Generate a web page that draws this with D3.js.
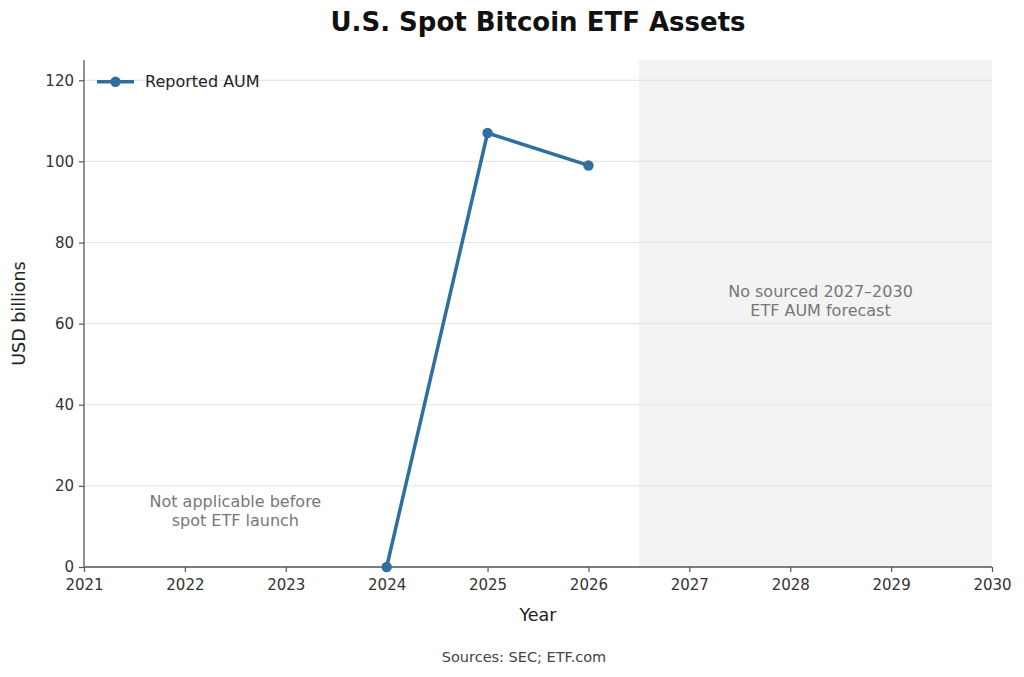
<!DOCTYPE html>
<html>
<head>
<meta charset="utf-8">
<script src="https://cdn.jsdelivr.net/npm/d3@7"></script>
<style>
  body { margin: 0; background: #fff; }
  svg { font-family: "DejaVu Sans", sans-serif; }
</style>
</head>
<body>
<div id="chart"></div>
<script>
// data
var years = [2024, 2025, 2026];
var aum = [0, 107, 99];
var xTicks = [2021, 2022, 2023, 2024, 2025, 2026, 2027, 2028, 2029, 2030];
var yTicks = [0, 20, 40, 60, 80, 100, 120];
var forecastStart = 2026.5;

var layout = {
    "width": 1024,
    "height": 677,
    "margin": {"top": 60, "right": 32, "bottom": 110, "left": 84}
};

var svg = d3.select("#chart").append("svg")
    .attr("width", layout.width)
    .attr("height", layout.height);

var x = d3.scaleLinear()
    .domain([2021, 2030])
    .range([layout.margin.left, layout.width - layout.margin.right]);

var y = d3.scaleLinear()
    .domain([0, 125])
    .range([layout.height - layout.margin.bottom, layout.margin.top]);

// shaded forecast region
svg.append("rect")
    .attr("x", x(forecastStart))
    .attr("y", y(125))
    .attr("width", x(2030) - x(forecastStart))
    .attr("height", y(0) - y(125))
    .attr("fill", "#f3f3f3");

// horizontal grid
svg.append("g")
    .selectAll("line")
    .data(yTicks)
    .enter()
    .append("line")
    .attr("x1", x(2021))
    .attr("x2", x(2030))
    .attr("y1", d => y(d))
    .attr("y2", d => y(d))
    .attr("stroke", "#e6e6e6")
    .attr("stroke-width", 1.2);

// axes
var xAxis = svg.append("g")
    .attr("transform", "translate(0," + y(0) + ")")
    .call(d3.axisBottom(x).tickValues(xTicks).tickFormat(d3.format("d")).tickSize(5).tickPadding(7));

var yAxis = svg.append("g")
    .attr("transform", "translate(" + x(2021) + ",0)")
    .call(d3.axisLeft(y).tickValues(yTicks).tickSize(5).tickPadding(5));

[xAxis, yAxis].forEach(function(g) {
    g.attr("font-family", null).attr("font-size", null);
    g.select(".domain").attr("stroke", "#555").attr("stroke-width", 1.3);
    g.selectAll(".tick line").attr("stroke", "#555").attr("stroke-width", 1.2);
    g.selectAll(".tick text")
        .attr("fill", "#333")
        .style("font-size", "15px");
});
// spines span the whole plot area
yAxis.select(".domain").attr("d", "M0," + y(125) + "V" + y(0));
xAxis.select(".domain").attr("d", "M" + x(2021) + ",0H" + x(2030));

// line
var line = d3.line()
    .x((d, i) => x(years[i]))
    .y(d => y(d));

svg.append("path")
    .datum(aum)
    .attr("d", line)
    .attr("fill", "none")
    .attr("stroke", "#2f6f9f")
    .attr("stroke-width", 3.5)
    .attr("stroke-linejoin", "round");

svg.selectAll("circle.pt")
    .data(aum)
    .enter()
    .append("circle")
    .attr("class", "pt")
    .attr("cx", (d, i) => x(years[i]))
    .attr("cy", d => y(d))
    .attr("r", 5.2)
    .attr("fill", "#2f6f9f");

// legend
var leg = svg.append("g").attr("transform", "translate(97," + (y(120) + 1.5) + ")");
leg.append("line")
    .attr("x1", 0).attr("x2", 37).attr("y1", 0).attr("y2", 0)
    .attr("stroke", "#2f6f9f").attr("stroke-width", 3.5);
leg.append("circle").attr("cx", 18.5).attr("cy", 0).attr("r", 5.2).attr("fill", "#2f6f9f");
leg.append("text")
    .attr("x", 48).attr("y", 0).attr("dy", "0.35em")
    .style("font-size", "16px").attr("fill", "#222")
    .text("Reported AUM");

// annotations
function note(cx, cy, lines) {
    var t = svg.append("text")
        .attr("text-anchor", "middle")
        .attr("fill", "#777")
        .style("font-size", "16px");
    lines.forEach(function(s, i) {
        t.append("tspan")
            .attr("x", cx)
            .attr("y", cy + i * 18.5)
            .text(s);
    });
}
note(x(2022.5), y(14.7), ["Not applicable before", "spot ETF launch"]);
note(x(2028.3), y(66.5), ["No sourced 2027\u20132030", "ETF AUM forecast"]);

// titles
svg.append("text")
    .attr("x", 538).attr("y", 31)
    .attr("text-anchor", "middle")
    .style("font-size", "26px").style("font-weight", "bold")
    .attr("fill", "#111")
    .text("U.S. Spot Bitcoin ETF Assets");

svg.append("text")
    .attr("x", x(2025.5)).attr("y", 621)
    .attr("text-anchor", "middle")
    .style("font-size", "17.5px").attr("fill", "#222")
    .text("Year");

svg.append("text")
    .attr("transform", "translate(25," + y(62.5) + ") rotate(-90)")
    .attr("text-anchor", "middle")
    .style("font-size", "17.5px").attr("fill", "#222")
    .text("USD billions");

svg.append("text")
    .attr("x", 524).attr("y", 662)
    .attr("text-anchor", "middle")
    .style("font-size", "14.5px").attr("fill", "#444")
    .text("Sources: SEC; ETF.com");
</script>
</body>
</html>
